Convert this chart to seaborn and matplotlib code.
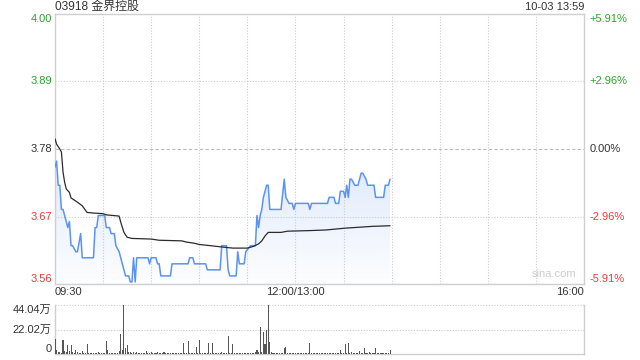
import numpy as np
import pandas as pd
import matplotlib
matplotlib.use('Agg')
import matplotlib.pyplot as plt
import seaborn as sns
from matplotlib.patches import Polygon
from matplotlib.colors import to_rgb
from matplotlib.transforms import blended_transform_factory

sns.set_theme(style='white')
plt.rcParams['font.family'] = ['Liberation Sans', 'Noto Sans CJK SC', 'DejaVu Sans']

# ---------------- data ----------------
title = '03918 金界控股'
stamp = '10-03 13:59'
watermark = 'sina.com'
prev_close = 3.78
pct_levels = [5.91, 2.96, 0.0, -2.96, -5.91]
price_labels = ['4.00', '3.89', '3.78', '3.67', '3.56']
pct_labels = ['+5.91%', '+2.96%', '0.00%', '-2.96%', '-5.91%']
time_labels = ['09:30', '12:00/13:00', '16:00']
time_label_pos = [0, 150, 330]
vol_max = 44.04
vol_tick_vals = [44.04, 22.02, 0]
vol_tick_labels = ['44.04万', '22.02万', '0']

# price line: trading minute index (0 = 09:30, 150 = 13:00) and price
price_min = [0, 1, 2, 3, 4, 5, 6, 8, 9, 10, 11, 13, 14, 16, 17, 24, 25, 26, 27, 31,
             32, 34, 35, 37, 38, 40, 42, 44, 46, 47, 48, 49, 50, 51, 58, 59, 60, 63, 64, 65,
             66, 72, 73, 83, 84, 86, 87, 94, 95, 103, 104, 107, 108, 109, 113, 114, 115, 118, 119, 122,
             125, 126, 127, 128, 129, 130, 132, 133, 134, 141, 143, 144, 146, 148, 149, 150, 158, 159, 160, 170,
             171, 174, 175, 177, 178, 180, 181, 182, 183, 184, 185, 187, 189, 191, 192, 194, 195, 199, 200, 205,
             206, 208, 209]
price_val = [3.75, 3.76, 3.72, 3.72, 3.68, 3.68, 3.67, 3.65, 3.66, 3.62, 3.62, 3.61, 3.61, 3.64, 3.60, 3.60, 3.65, 3.65, 3.67, 3.67,
             3.65, 3.65, 3.64, 3.64, 3.62, 3.61, 3.59, 3.57, 3.57, 3.56, 3.56, 3.60, 3.56, 3.60, 3.60, 3.59, 3.60, 3.60, 3.59, 3.59,
             3.57, 3.57, 3.59, 3.59, 3.60, 3.60, 3.59, 3.59, 3.58, 3.58, 3.62, 3.62, 3.58, 3.57, 3.57, 3.61, 3.59, 3.59, 3.61, 3.62,
             3.62, 3.67, 3.65, 3.67, 3.68, 3.70, 3.72, 3.72, 3.68, 3.68, 3.73, 3.70, 3.69, 3.69, 3.68, 3.69, 3.69, 3.68, 3.69, 3.69,
             3.70, 3.70, 3.69, 3.69, 3.71, 3.71, 3.70, 3.72, 3.70, 3.73, 3.73, 3.72, 3.72, 3.74, 3.74, 3.73, 3.72, 3.72, 3.70, 3.70,
             3.72, 3.72, 3.73]

# average price line
avg_min = [0, 1, 3, 4, 5, 6, 7, 9, 10, 14, 17, 20, 24, 30, 32, 40, 41, 43, 45, 48,
           60, 65, 79, 82, 87, 90, 97, 107, 111, 120, 124, 127, 129, 131, 133, 141, 145, 159, 169, 181,
           198, 209]
avg_val = [3.797, 3.788, 3.780, 3.775, 3.742, 3.725, 3.714, 3.708, 3.699, 3.692, 3.686, 3.675, 3.674, 3.673, 3.671, 3.669, 3.659, 3.642, 3.634, 3.632,
           3.631, 3.629, 3.628, 3.626, 3.624, 3.622, 3.620, 3.617, 3.616, 3.616, 3.619, 3.623, 3.628, 3.636, 3.642, 3.642, 3.644, 3.645, 3.646, 3.649,
           3.652, 3.653]

# volume per minute (万)
volume = [13.5, 4, 2, 2, 1, 13, 3, 1.5, 8, 2.5,
          8, 2, 1, 4, 1.5, 1, 0.8, 3, 1, 0.8,
          9, 1, 0.6, 1.2, 0.8, 0.5, 0.7, 1.5, 0.6, 0.5,
          1, 0.8, 12, 3.5, 1, 0.6, 0.5, 0.8, 1.2, 0.6,
          2.5, 17.7, 4, 44.04, 5, 8, 2, 1.5, 1, 2,
          0.8, 1.5, 0.6, 0.8, 0.5, 1.2, 0.6, 3, 0.8, 0.5,
          1.5, 0.7, 0.5, 1, 2, 0.6, 0.8, 0.5, 1.5, 0.5,
          0.8, 0.6, 0.5, 1, 0.6, 0.8, 0.5, 0.6, 0.8, 0.6,
          10, 0.8, 0.6, 12, 0.8, 0.5, 0.6, 0.8, 6, 0.6,
          13, 0.8, 0.5, 0.6, 1, 0.6, 10, 0.8, 10, 0.6,
          0.5, 0.8, 0.6, 0.7, 1.5, 0.6, 0.8, 0.5, 16, 0.8,
          0.6, 9, 0.5, 0.7, 1, 0.6, 0.8, 0.5, 0.6, 0.8,
          0.5, 0.7, 0.6, 0.8, 1, 1.5, 4, 1.5, 24.5, 2,
          20, 9, 21.6, 44.04, 11, 1.5, 1, 0.8, 0.6, 0.5,
          0.8, 0.6, 1, 5.7, 6.5, 0.8, 0.6, 0.5, 0.7, 0.6,
          0.8, 0.5, 0.6, 0.7, 0.5, 0.8, 0.6, 0.5, 0.7, 10,
          0.6, 0.8, 0.5, 0.6, 0.7, 0.5, 0.6, 0.8, 0.5, 0.6,
          0.7, 0.5, 0.6, 0.8, 0.5, 0.6, 0.7, 0.8, 4, 0.6,
          0.8, 9, 0.6, 10, 0.8, 2, 0.6, 0.5, 0.8, 0.6,
          3, 0.6, 0.8, 5, 0.6, 0.5, 2, 0.6, 0.8, 0.5,
          5.7, 0.6, 0.8, 0.5, 0.7, 0.6, 0.8, 0.5, 0.6, 4]

# ---------------- styling ----------------
GREEN = '#2aa52a'
RED = '#ee3b3b'
DARK = '#333333'
GRID = '#cccccc'
BORDER = '#cfcfcf'
BLUE = '#5b93f0'

W, H = 640, 360
fig = plt.figure(figsize=(6.4, 3.6), dpi=100)
ax = fig.add_axes([55 / W, 1 - 284 / H, 529 / W, 270 / H])
axv = fig.add_axes([55 / W, 1 - 354 / H, 529 / W, 49 / H])

levels = [prev_close * (1 + p / 100) for p in pct_levels]
ymax, ymin = levels[0], levels[-1]

# gradient fill under the price line
df = pd.DataFrame({'t': price_min, 'p': price_val})
verts = list(zip(price_min, price_val)) + [(price_min[-1], ymin), (price_min[0], ymin)]
poly = Polygon(verts, closed=True, facecolor='none', edgecolor='none')
ax.add_patch(poly)
rgba = np.zeros((256, 1, 4))
rgba[..., :3] = to_rgb('#d9e6fb')
rgba[..., 3] = np.linspace(0.85, 0.05, 256)[:, None]
im = ax.imshow(rgba, extent=[price_min[0], price_min[-1], ymin, max(price_val)],
               aspect='auto', origin='upper', zorder=1, interpolation='bilinear')
im.set_clip_path(poly)

sns.lineplot(data=df, x='t', y='p', ax=ax, color=BLUE, lw=1.1, zorder=4)
sns.lineplot(x=avg_min, y=avg_val, ax=ax, color='#2b2b2b', lw=0.9, zorder=5)

ax.set_xlim(0, 330)
ax.set_ylim(ymin, ymax)
ax.set_xticks([]); ax.set_yticks([])
ax.set_xlabel(''); ax.set_ylabel('')
for s in ax.spines.values():
    s.set_color(BORDER); s.set_linewidth(1.0)

# grid lines
for i, lv in enumerate(levels[1:-1]):
    if pct_levels[i + 1] == 0:
        ax.axhline(lv, color='#bbbbbb', lw=0.8, ls=(0, (3, 2)), zorder=2)
    else:
        ax.axhline(lv, color=GRID, lw=0.8, ls=(0, (1, 1.5)), zorder=2)
for t in range(30, 330, 30):
    ax.axvline(t, color=GRID, lw=0.8, ls=(0, (1, 1.5)), zorder=2)

# axis labels
tr = blended_transform_factory(ax.transAxes, ax.transData)
colors = [GREEN, GREEN, DARK, RED, RED]
vas = ['top', 'center', 'center', 'center', 'bottom']
for lv, pl, cl, c, va in zip(levels, price_labels, pct_labels, colors, vas):
    off = -0.4 if va == 'top' else (0.0)
    ax.text(-0.006, lv, pl, transform=tr, ha='right', va=va, color=c, fontsize=8)
    ax.text(1.011, lv, cl, transform=tr, ha='left', va=va, color=c, fontsize=8)

trx = blended_transform_factory(ax.transData, ax.transAxes)
for pos, lab, ha in zip(time_label_pos, time_labels, ['left', 'center', 'right']):
    ax.text(pos, -0.03, lab, transform=trx, ha=ha, va='center', color=DARK, fontsize=8)

ax.text(0.0, 1.025, title, transform=ax.transAxes, ha='left', va='center', color=DARK, fontsize=8.6)
ax.text(1.0, 1.025, stamp, transform=ax.transAxes, ha='right', va='center', color=DARK, fontsize=8)
ax.text(0.985, 0.02, watermark, transform=ax.transAxes, ha='right', va='bottom', color='#cccccc', fontsize=8)

# volume panel
axv.bar(np.arange(len(volume)), volume, width=0.65, color='#555555', linewidth=0, zorder=3)
axv.set_xlim(0, 330)
axv.set_ylim(0, vol_max)
axv.set_xticks([]); axv.set_yticks([])
for k, s in axv.spines.items():
    s.set_color(BORDER); s.set_linewidth(1.0)
axv.spines['top'].set_visible(False)
axv.axhline(vol_max, color=GRID, lw=0.8, ls=(0, (1, 1.5)), zorder=2, clip_on=False)
axv.axhline(vol_max / 2, color=GRID, lw=0.8, ls=(0, (1, 1.5)), zorder=2)
trv = blended_transform_factory(axv.transAxes, axv.transData)
for v, lab, va in zip(vol_tick_vals, vol_tick_labels, ['top', 'center', 'bottom']):
    axv.text(-0.006, v, lab, transform=trv, ha='right', va=va, color=DARK, fontsize=8)

fig.savefig('out.png', dpi=100)
